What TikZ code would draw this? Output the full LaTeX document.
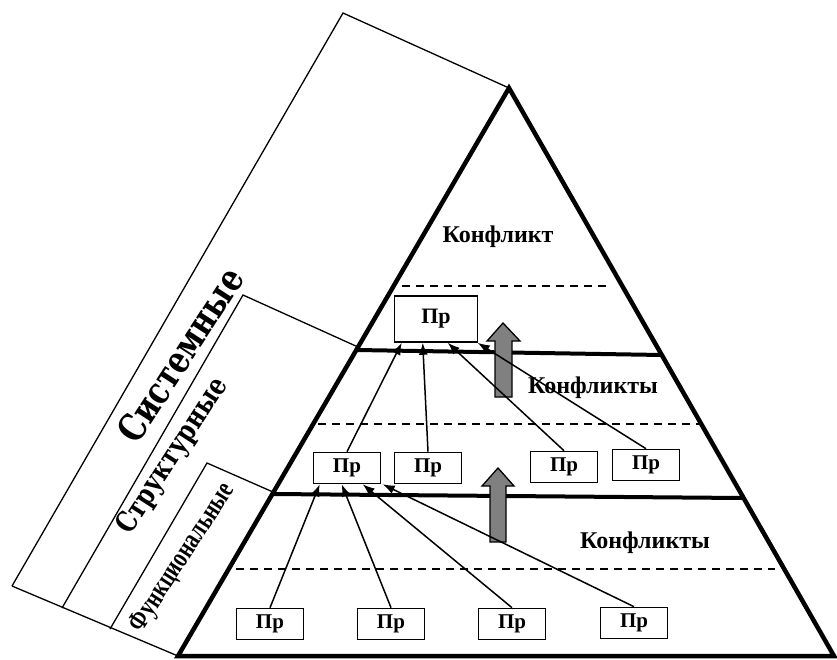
\documentclass[tikz,border=0pt]{standalone}
\usepackage{fontspec}
\setmainfont{Liberation Serif}
\newfontfamily\widefont{DejaVu Serif Bold}
\usetikzlibrary{arrows.meta}

\begin{document}
\begin{tikzpicture}[x=1pt,y=-1pt,
  pr/.style={draw,line width=1.6pt,minimum width=67pt,minimum height=31pt,inner sep=0pt,font=\fontsize{21}{21}\selectfont\bfseries},
  conn/.style={line width=1.5pt,-{Latex[length=12pt,width=9pt]}},
  lvl/.style={line width=4pt},
  dsh/.style={line width=1.3pt,dash pattern=on 8pt off 6pt},
  band/.style={line width=1.3pt},
  blk/.style={draw,line width=1.3pt,fill=gray},
  lbl/.style={font=\fontsize{24}{24}\selectfont\bfseries}]
\useasboundingbox (0,0) rectangle (837,659);
\draw[band] (12,586) -- (343,13) -- (509,88);
\draw[band] (12,586) -- (178,656);
\draw[band] (62,608) -- (243,295) -- (358,347);
\draw[band] (110,629) -- (207,463) -- (273,492);
\node[rotate=57,yscale=1.25,inner sep=0pt,font=\widefont\fontsize{30}{30}\selectfont] (sys) at (180,355) {Системные};
\node[rotate=57,yscale=1.25,inner sep=0pt,font=\widefont\fontsize{23}{23}\selectfont] (str) at (173,456) {Структурные};
\node[rotate=57,yscale=1.35,inner sep=0pt,font=\fontsize{21}{21}\selectfont\bfseries] (fun) at (183,558) {Функциональные};
\draw[line width=4.5pt] (509,88) -- (834,656) -- (178,656) -- cycle;
\draw[lvl] (357,350) -- (662,355);
\draw[lvl] (273,494) -- (742,498);
\draw[dsh] (402,286) -- (608,286);
\draw[dsh] (318,424) -- (702,424);
\draw[dsh] (236,569) -- (775,569);
\node[lbl] (k1) at (498,237) {Конфликт};
\node[lbl] (k2) at (593,388) {Конфликты};
\node[lbl] (k3) at (645,543) {Конфликты};
\draw[blk] (495,397) -- (495,341) -- (487,341) -- (503,323) -- (520,341) -- (512,341) -- (512,397) -- cycle;
\draw[blk] (490,542) -- (490,486) -- (482,486) -- (498,468) -- (514,486) -- (506,486) -- (506,542) -- cycle;
\node[pr,minimum width=83pt,minimum height=46pt,font=\fontsize{22}{22}\selectfont\bfseries] (t) at (436,319) {Пр};
\node[pr] (m1) at (347,468) {Пр};
\node[pr] (m2) at (428,468) {Пр};
\node[pr] (m3) at (564,467) {Пр};
\node[pr] (m4) at (646,465) {Пр};
\node[pr] (b1) at (270,624) {Пр};
\node[pr] (b2) at (391,624) {Пр};
\node[pr] (b3) at (512,624) {Пр};
\node[pr] (b4) at (634,623) {Пр};
\draw[conn] (b1.north) -- ([xshift=7pt]m1.south west);
\draw[conn] (b2.north) -- ([xshift=29pt]m1.south west);
\draw[conn] (b3.north) -- ([xshift=50pt]m1.south west);
\draw[conn] (b4.north) -- ([xshift=70pt]m1.south west);
\draw[conn] (m1.north) -- ([xshift=8pt]t.south west);
\draw[conn] (m2.north) -- ([xshift=29pt]t.south west);
\draw[conn] (m3.north) -- ([xshift=54pt]t.south west);
\draw[conn] (m4.north) -- ([xshift=84pt]t.south west);
\end{tikzpicture}
\end{document}
